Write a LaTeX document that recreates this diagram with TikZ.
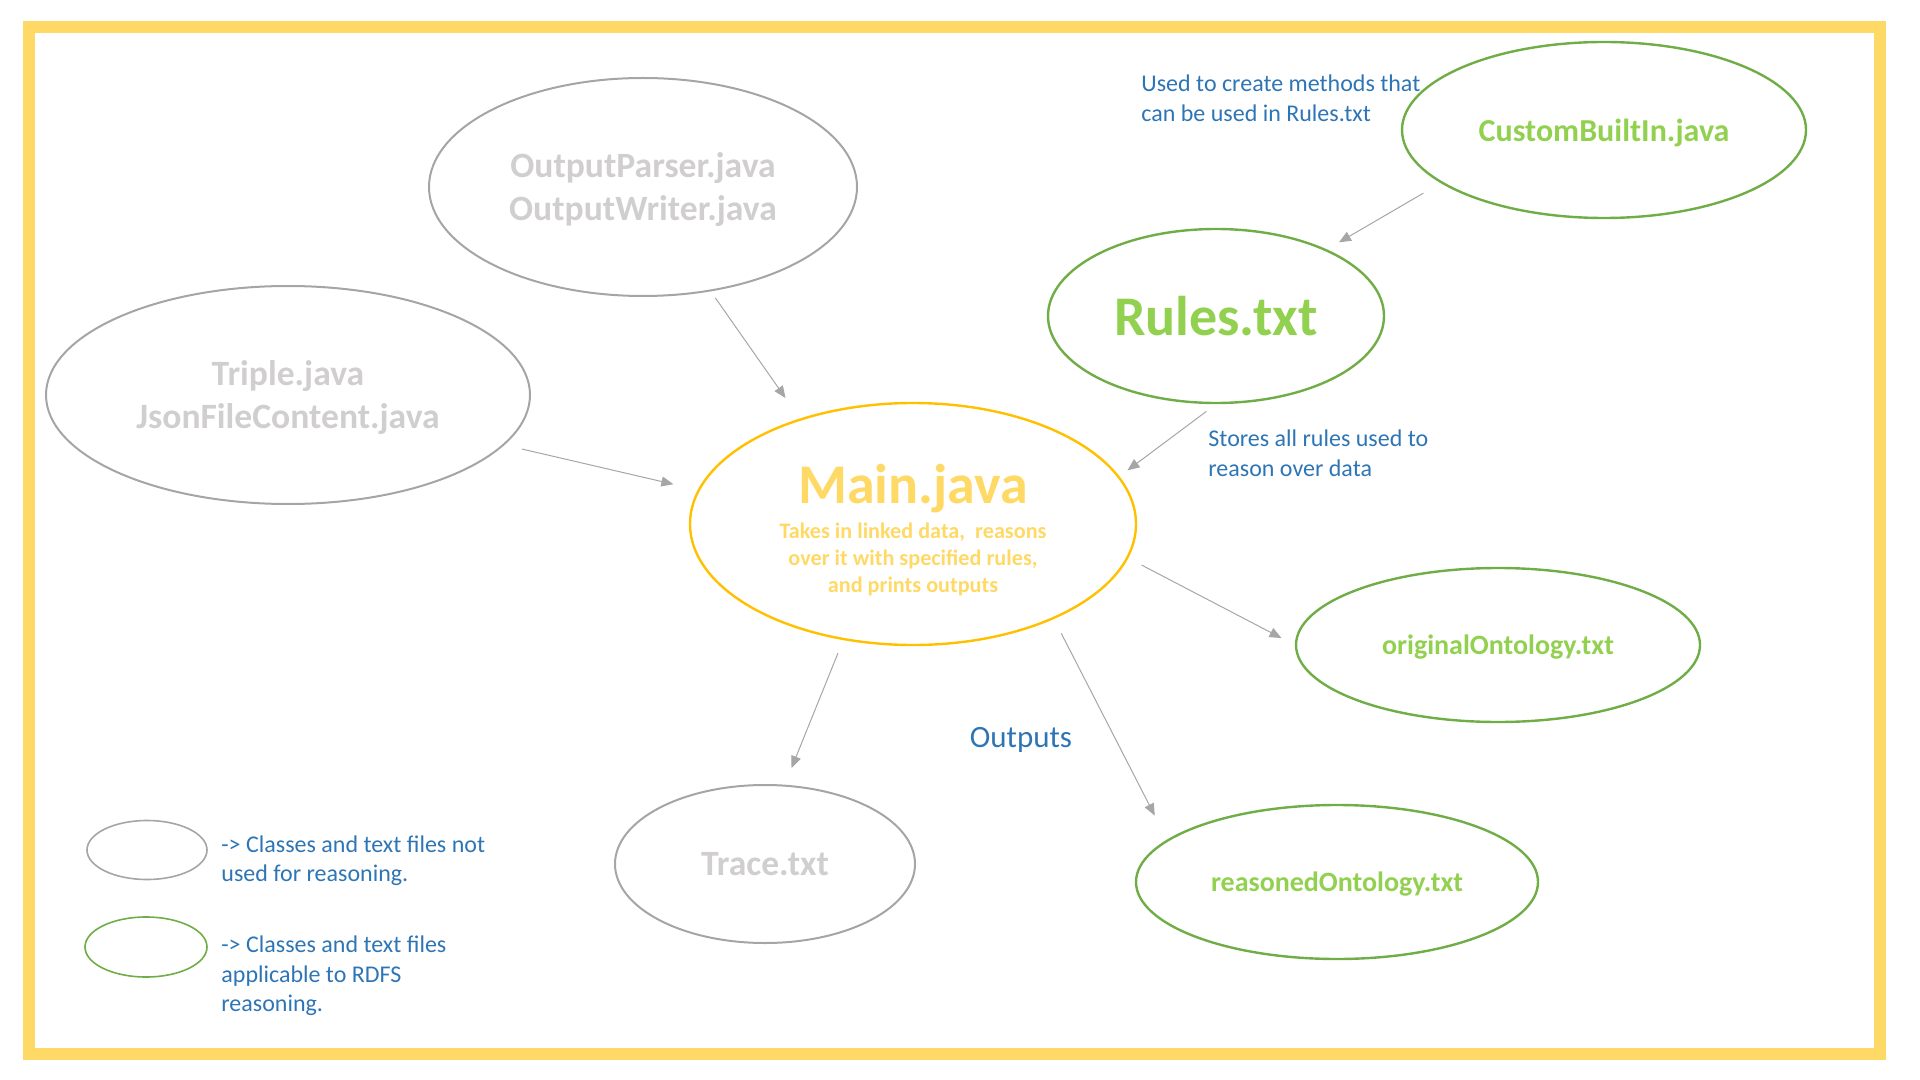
\documentclass[tikz,border=0pt]{standalone}
\usepackage{fontspec}
\setmainfont{Carlito}
\usepackage{tikz}
\usetikzlibrary{positioning,
                arrows.meta,                % arrow tips
                shapes.geometric}           % ellipse nodes

\definecolor{frameyellow}{HTML}{FFD966}
\definecolor{mainline}{HTML}{FFC000}
\definecolor{maintext}{HTML}{FFD966}
\definecolor{greyline}{HTML}{A5A5A5}
\definecolor{greytext}{HTML}{D0CECE}
\definecolor{greenline}{HTML}{70AD47}
\definecolor{greentext}{HTML}{92D050}
\definecolor{notetext}{HTML}{2E75B6}
\definecolor{arrowgrey}{HTML}{A6A6A6}

\tikzset{
    greyfile/.style={ellipse, draw=greyline, line width=1pt, text=greytext,
                     align=center, inner sep=0pt, text depth=0pt,
                     font=\bfseries\fontsize{17.8}{21.5}\selectfont},
    greenfile/.style={ellipse, draw=greenline, line width=1.2pt, text=greentext,
                      inner sep=0pt, text depth=0pt, font=\bfseries},
    note/.style={text=notetext, align=left, anchor=west, inner sep=0pt,
                 font=\fontsize{12}{14.75}\selectfont},
    arr/.style={draw=arrowgrey, line width=0.5pt,
                -{Triangle[length=6pt, width=5pt]}}
}

\begin{document}
\begin{tikzpicture}[x=0.5pt, y=-0.5pt]
        \useasboundingbox (0,0) rectangle (1920,1080);
        \draw[frameyellow, line width=6pt] (29,27) rectangle (1880,1054);

        % files
        \node[greyfile, minimum width=214pt, minimum height=109pt] (op) at (643,187)
            {OutputParser.java\\OutputWriter.java};
        \node[greyfile, minimum width=242pt, minimum height=109pt] (triple) at (288,395)
            {Triple.java\\JsonFileContent.java};
        \node[ellipse, draw=mainline, line width=1.2pt, text=maintext, align=center,
              inner sep=0pt, minimum width=223pt, minimum height=121pt,
              font=\bfseries\fontsize{11.1}{13.5}\selectfont] (main) at (913,524)
            {\rule{0pt}{26pt}{\fontsize{28}{34}\selectfont Main.java}\\[4pt]
             Takes in linked data,\ \ reasons\\over it with specified rules,\\and prints outputs};
        \node[greenfile, minimum width=168pt, minimum height=87pt,
              font=\bfseries\fontsize{28}{33}\selectfont] (rules) at (1216,316) {Rules.txt};
        \node[greenfile, minimum width=202pt, minimum height=88pt,
              font=\bfseries\fontsize{16}{19}\selectfont] (custom) at (1604,130) {CustomBuiltIn.java};
        \node[greenfile, minimum width=202pt, minimum height=77pt,
              font=\bfseries\fontsize{14}{17}\selectfont] (orig) at (1498,645) {originalOntology.txt};
        \node[greenfile, minimum width=201pt, minimum height=77pt,
              font=\bfseries\fontsize{14}{17}\selectfont] (reasoned) at (1337,882) {reasonedOntology.txt};
        \node[greyfile, minimum width=150pt, minimum height=79pt] (trace) at (765,864) {Trace.txt};

        % notes
        \node[note] (usednote) at (1141,98.5) {Used to create methods that\\can be used in Rules.txt};
        \node[note] (storesnote) at (1208,453.5) {Stores all rules used to\\reason over data};
        \node[text=notetext, inner sep=0pt, text depth=0pt,
              font=\fontsize{15.5}{18}\selectfont] (outputs) at (1021,737) {Outputs};

        % arrows
        \draw[arr, shorten <=4pt, shorten >=12.5pt] (op.-57) -- (main.137);
        \draw[arr, shorten <=9pt, shorten >=12.5pt] (triple.-13) -- (main.171);
        \draw[arr, shorten <=10pt, shorten >=7pt] (custom.198) -- (rules.31);
        \draw[arr, shorten <=6pt, shorten >=5pt] (rules.-90) -- (main.13);
        \draw[arr, shorten <=7.5pt, shorten >=7.5pt] (main.-9) -- (orig.180);
        \draw[arr, shorten <=7pt, shorten >=9pt] (main.-121) -- (trace.76);
        \draw[arr, shorten <=8pt, shorten >=13.5pt] (main.-34) -- (reasoned.166);

        % legend
        \node[ellipse, draw=greyline, line width=0.8pt, minimum width=60pt, minimum height=29.5pt] (leggrey) at (147,850) {};
        \node[ellipse, draw=greenline, line width=0.8pt, minimum width=61pt, minimum height=30pt] (leggreen) at (146,947) {};
        \node[note] (greynote) at (221,860.5) {-> Classes and text files not\\used for reasoning.};
        \node[note] (greennote) at (221,976) {-> Classes and text files\\applicable to RDFS\\reasoning.};
\end{tikzpicture}
\end{document}
